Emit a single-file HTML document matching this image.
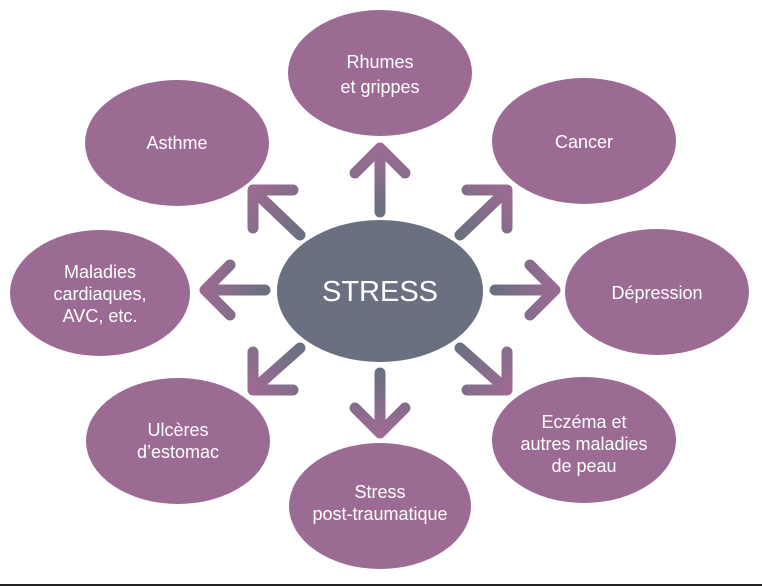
<!DOCTYPE html>
<html><head><meta charset="utf-8"><style>
html,body{margin:0;padding:0;background:#fff;}
svg{display:block;}
text{font-family:"Liberation Sans",sans-serif;fill:#fff;text-anchor:middle;}
</style></head><body>
<svg width="762" height="586" viewBox="0 0 762 586">
<defs>
<linearGradient id="gu" gradientUnits="userSpaceOnUse" x1="380" y1="212" x2="380" y2="150"><stop offset="0" stop-color="#6b7080"/><stop offset="1" stop-color="#9c6b93"/></linearGradient>
<linearGradient id="gd" gradientUnits="userSpaceOnUse" x1="380" y1="373" x2="380" y2="432"><stop offset="0" stop-color="#6b7080"/><stop offset="1" stop-color="#9c6b93"/></linearGradient>
<linearGradient id="gr" gradientUnits="userSpaceOnUse" x1="495" y1="290" x2="555" y2="290"><stop offset="0" stop-color="#6b7080"/><stop offset="1" stop-color="#9c6b93"/></linearGradient>
<linearGradient id="gl" gradientUnits="userSpaceOnUse" x1="265" y1="290" x2="205" y2="290"><stop offset="0" stop-color="#6b7080"/><stop offset="1" stop-color="#9c6b93"/></linearGradient>
<linearGradient id="gul" gradientUnits="userSpaceOnUse" x1="300" y1="235" x2="253" y2="190"><stop offset="0" stop-color="#6b7080"/><stop offset="1" stop-color="#9c6b93"/></linearGradient>
<linearGradient id="gur" gradientUnits="userSpaceOnUse" x1="460" y1="235" x2="507" y2="190"><stop offset="0" stop-color="#6b7080"/><stop offset="1" stop-color="#9c6b93"/></linearGradient>
<linearGradient id="gdl" gradientUnits="userSpaceOnUse" x1="300" y1="348" x2="253" y2="390"><stop offset="0" stop-color="#6b7080"/><stop offset="1" stop-color="#9c6b93"/></linearGradient>
<linearGradient id="gdr" gradientUnits="userSpaceOnUse" x1="460" y1="348" x2="507" y2="390"><stop offset="0" stop-color="#6b7080"/><stop offset="1" stop-color="#9c6b93"/></linearGradient>
</defs>
<g fill="#9c6b93">
<ellipse cx="380" cy="73" rx="92" ry="63"/>
<ellipse cx="177" cy="143" rx="92" ry="63"/>
<ellipse cx="584" cy="141" rx="92" ry="63"/>
<ellipse cx="100" cy="293" rx="90" ry="63"/>
<ellipse cx="657" cy="292" rx="92" ry="63"/>
<ellipse cx="178" cy="441" rx="92" ry="63"/>
<ellipse cx="584" cy="440" rx="92" ry="63"/>
<ellipse cx="380" cy="506" rx="91" ry="63"/>
</g>
<ellipse cx="380" cy="291" rx="103" ry="71" fill="#6b7080"/>
<g fill="none" stroke-width="11" stroke-linecap="round" stroke-linejoin="round">
<path stroke="url(#gu)" d="M380 212V150M355 173L380 148L405 173"/>
<path stroke="url(#gd)" d="M380 373V432M355 408L380 433L405 408"/>
<path stroke="url(#gr)" d="M495 290H555M530 265L555 290L530 315"/>
<path stroke="url(#gl)" d="M265 290H205M230 265L205 290L230 315"/>
<path stroke="url(#gul)" d="M300 235L255 192M293 190H253V228"/>
<path stroke="url(#gur)" d="M460 235L505 192M467 190H507V228"/>
<path stroke="url(#gdl)" d="M300 348L255 388M293 390H253V352"/>
<path stroke="url(#gdr)" d="M460 348L505 388M467 390H507V352"/>
</g>
<g font-size="18">
<text x="380" y="68">Rhumes</text><text x="380" y="93">et grippes</text>
<text x="177" y="149">Asthme</text>
<text x="584" y="148">Cancer</text>
<text x="100" y="278">Maladies</text><text x="100" y="300">cardiaques,</text><text x="100" y="322">AVC, etc.</text>
<text x="657" y="299">Dépression</text>
<text x="178" y="436">Ulcères</text><text x="178" y="458">d’estomac</text>
<text x="584" y="428">Eczéma et</text><text x="584" y="450">autres maladies</text><text x="584" y="472">de peau</text>
<text x="380" y="498">Stress</text><text x="380" y="520">post-traumatique</text>
</g>
<text x="380" y="301" font-size="29">STRESS</text>
<rect x="0" y="584" width="762" height="2" fill="#222"/>
</svg>
</body></html>
